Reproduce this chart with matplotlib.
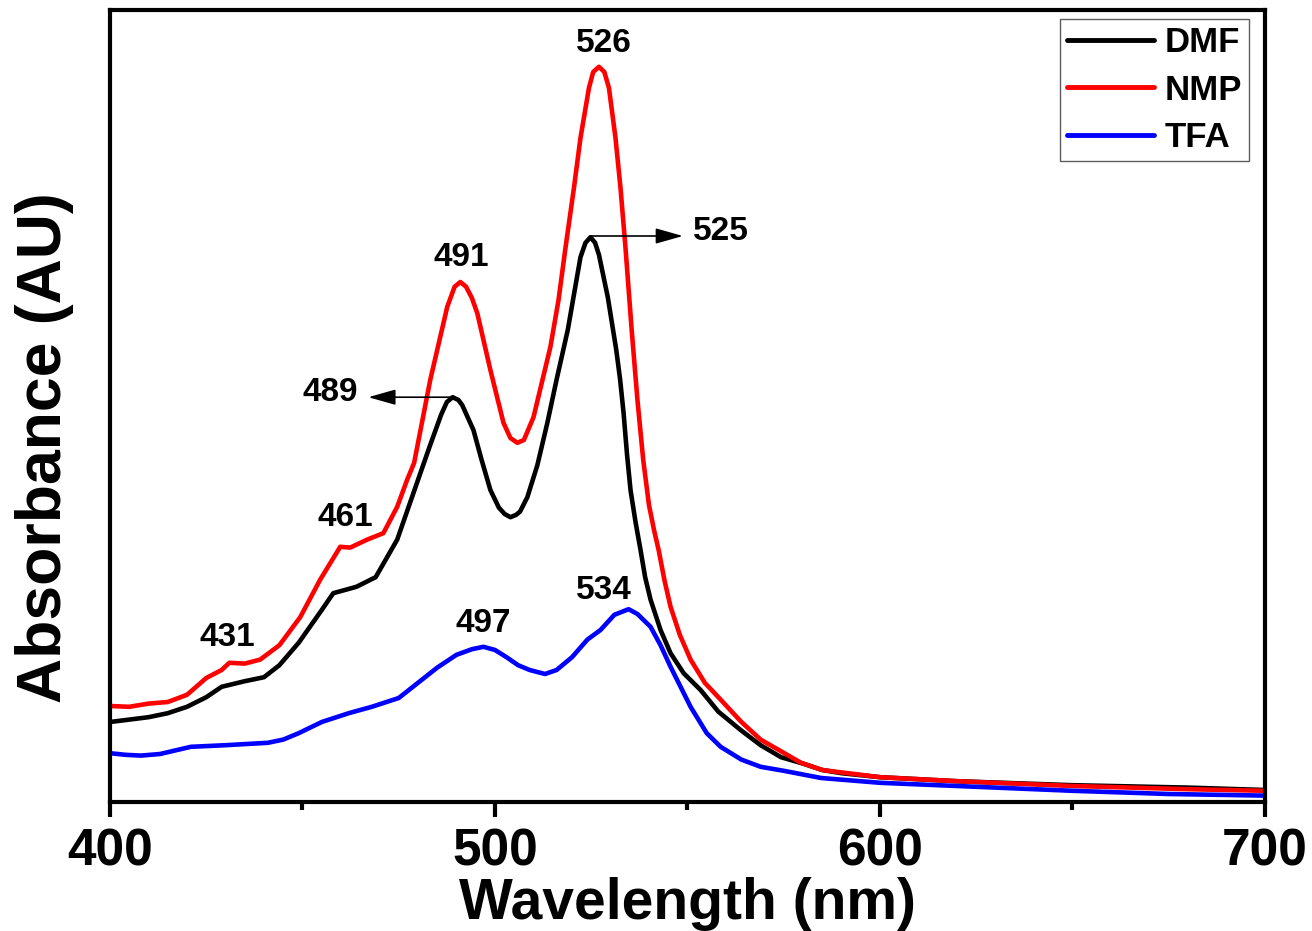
import matplotlib
matplotlib.use("Agg")
import matplotlib.pyplot as plt

plt.rcParams['font.family'] = ['Liberation Sans', 'DejaVu Sans']
plt.rcParams['font.weight'] = 'bold'

# ---- data (absorbance, arbitrary units) ----
dmf_wl = [400, 405, 410, 415, 420, 425, 429, 435, 440, 444, 449, 455, 458, 464, 469,
          474.6, 478.8, 483, 486, 487.5, 489, 490.5, 491.5, 494.4, 496.5, 498.8, 501,
          502.5, 504, 505.5, 506.5, 508.4, 511, 513.6, 516, 518.9, 522.2, 523.5, 524.8,
          526, 527, 529.3, 531.5, 532.5, 533.4, 534.3, 535.2, 536.5, 537.8, 539, 540.4,
          543, 545.6, 549, 553.4, 558, 563.8, 569, 574.3, 580, 585, 590, 600, 620, 650,
          680, 700]
dmf_abs = [.100, .103, .106, .111, .119, .131, .144, .151, .156, .171, .199, .240, .261,
           .269, .281, .328, .386, .444, .484, .500, .506, .5025, .496, .465, .428, .390,
           .368, .360, .356, .359, .363, .381, .421, .474, .528, .590, .681, .699, .706,
           .699, .684, .631, .565, .528, .486, .434, .390, .350, .315, .281, .253, .215,
           .186, .161, .140, .113, .090, .071, .056, .048, .040, .036, .031, .026, .021,
           .018, .015]

nmp_wl = [400, 405, 410, 415, 420, 425, 429, 431, 435, 439, 444, 449.4, 454.6, 459.8,
          462.4, 466.8, 471, 474.6, 477.2, 479, 483.2, 487.6, 489.5, 491, 492.5, 494,
          495.4, 498.8, 502.2, 504, 505.8, 507.5, 510, 514.4, 516.5, 518.3, 520.5, 522.2,
          524.4, 525.5, 527, 528.4, 529.6, 531.3, 532.6, 533.9, 535.5, 537, 538.5, 540,
          541.3, 542.5, 544, 545.6, 548, 550.8, 554.5, 558.6, 564, 569, 579.5, 585, 600,
          620, 650, 680, 700]
nmp_abs = [.120, .119, .123, .125, .134, .155, .165, .174, .173, .178, .196, .231, .278,
           .319, .318, .328, .336, .369, .403, .424, .528, .619, .644, .650, .644, .630,
           .611, .540, .474, .455, .449, .4525, .481, .569, .6275, .6925, .7675, .830,
           .8925, .9125, .919, .9125, .8925, .830, .7675, .6925, .590, .5025, .4275, .371,
           .340, .315, .2775, .244, .209, .178, .149, .128, .100, .078, .049, .040, .031,
           .026, .020, .016, .014]

tfa_wl = [400, 404, 408, 413, 421, 430, 441, 445, 449, 455, 462, 468, 475, 480, 485,
          490, 494, 497, 500, 503, 506, 509, 513, 516, 520, 524, 527.4, 531, 534.7, 537,
          540.4, 543, 545.6, 550.8, 555, 558.6, 564, 569, 575, 584.7, 600, 625, 650,
          675, 700]
tfa_abs = [.061, .059, .058, .060, .069, .071, .074, .078, .086, .100, .111, .119, .130,
           .149, .168, .184, .191, .194, .190, .181, .171, .165, .160, .165, .181, .203,
           .215, .234, .241, .235, .219, .196, .169, .119, .086, .069, .053, .044, .039,
           .030, .024, .019, .014, .010, .008]

series_names = ['DMF', 'NMP', 'TFA']
series_colors = ['#000000', '#ff0000', '#0000ff']

# peak labels: (text, x, y)
peak_labels = [('526', 528.2, 0.948), ('491', 491.3, 0.680), ('461', 461.1, 0.355),
               ('431', 430.4, 0.205), ('497', 497.0, 0.2225), ('534', 528.2, 0.264)]
# arrow labels: (text, peak x, peak y, arrow end x, text x)
arrow_labels = [('489', 488.9, 0.506, 467.1, 457.2), ('525', 524.8, 0.7075, 548.8, 558.6)]

fig = plt.figure(figsize=(13.12, 9.31), dpi=100)
ax = fig.add_axes([110/1312, 129/931, 1155/1312, 792/931])

for wl, ab, name, col in zip([dmf_wl, nmp_wl, tfa_wl], [dmf_abs, nmp_abs, tfa_abs],
                             series_names, series_colors):
    ax.plot(wl, ab, color=col, lw=3.3, label=name, solid_capstyle='round',
            solid_joinstyle='round')

ax.set_xlim(400, 700)
ax.set_ylim(0, 0.99)
ax.set_xticks([400, 500, 600, 700])
ax.set_xticks([450, 550, 650], minor=True)
ax.set_yticks([])
ax.tick_params(axis='x', which='major', direction='out', length=11, width=3, pad=7,
               labelsize=37)
ax.tick_params(axis='x', which='minor', direction='out', length=6, width=3)
for lab in ax.get_xticklabels():
    lab.set_fontweight('bold')
for sp in ax.spines.values():
    sp.set_linewidth(3)

ax.set_xlabel('Wavelength (nm)', fontsize=41, fontweight='bold')
ax.xaxis.set_label_coords(0.5, -0.0947)
ax.xaxis.label.set_va('top')
ax.set_ylabel('Absorbance (AU)', fontsize=45, fontweight='bold')
ax.yaxis.set_label_coords(-0.031, 0.448)

for t, x, y in peak_labels:
    ax.text(x, y, t, fontsize=24, fontweight='bold', ha='center', va='center')
for t, px, py, ex, tx in arrow_labels:
    ax.annotate('', xy=(ex, py), xytext=(px, py),
                arrowprops=dict(arrowstyle='-|>,head_length=0.6,head_width=0.17',
                                lw=1.2, color='k', mutation_scale=28,
                                shrinkA=0, shrinkB=0))
    ax.text(tx, py + 0.006, t, fontsize=24, fontweight='bold', ha='center', va='center')

leg = ax.legend(loc='upper right', bbox_to_anchor=(0.986, 0.9886), borderaxespad=0,
                fontsize=25, handlelength=2.5, handletextpad=0.3, labelspacing=0.42,
                borderpad=0.2, fancybox=False, frameon=True)
leg.get_frame().set_edgecolor('#333333')
leg.get_frame().set_linewidth(1.0)
for line in leg.get_lines():
    line.set_linewidth(3.5)
for txt in leg.get_texts():
    txt.set_fontweight('bold')

fig.savefig('out.png', dpi=100)
